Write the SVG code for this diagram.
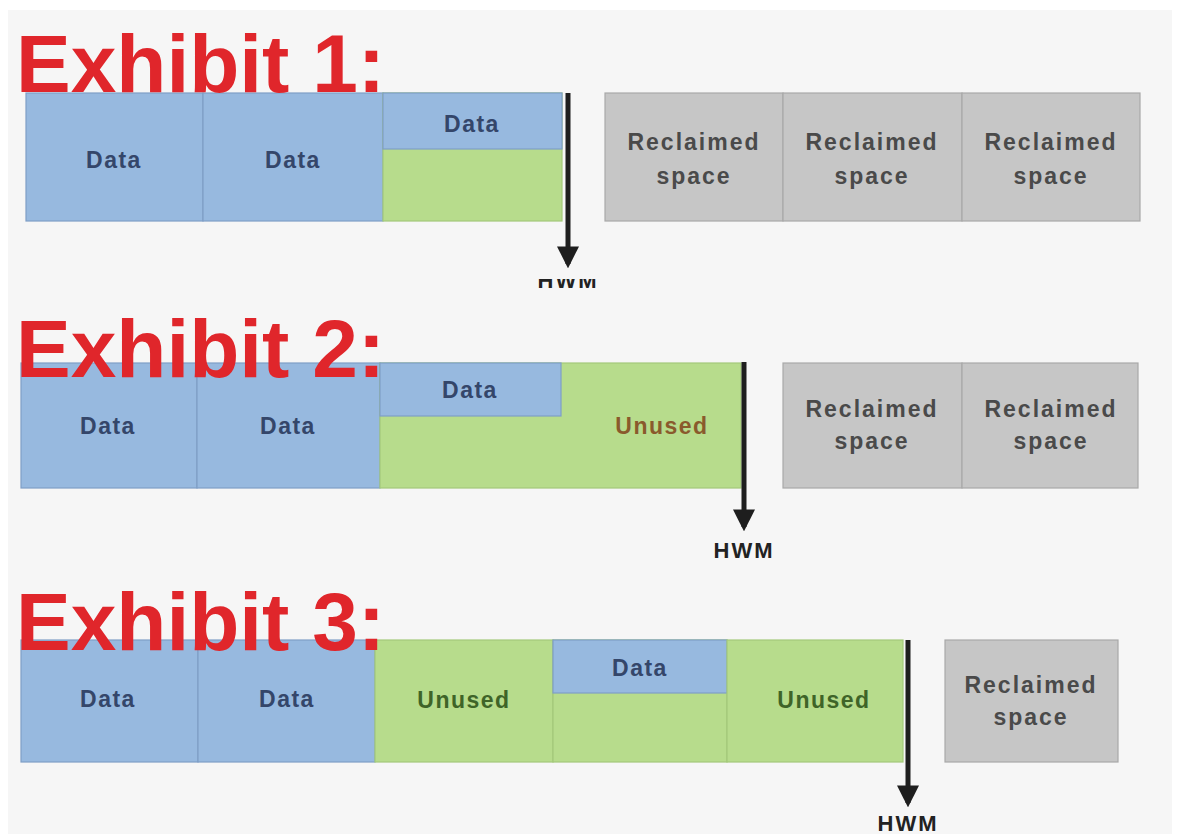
<svg xmlns="http://www.w3.org/2000/svg" width="1180" height="834" viewBox="0 0 1180 834">
<defs>
<style>
.bg{fill:#f6f6f6}
.data{fill:#97b9df;stroke:#7f9ec6;stroke-width:1.2}
.unused{fill:#b7dc8c;stroke:#a3c97a;stroke-width:1.2}
.recl{fill:#c6c6c6;stroke:#a9a9a9;stroke-width:1.2}
.title{font-family:"Liberation Sans",Arial,sans-serif;font-weight:bold;font-size:82px;fill:#e0262b}
.dt{font-family:"Liberation Sans",Arial,sans-serif;font-weight:bold;font-size:23px;letter-spacing:1.5px;fill:#34466a;text-anchor:middle}
.ut{font-family:"Liberation Sans",Arial,sans-serif;font-weight:bold;font-size:23px;letter-spacing:1.5px;fill:#3f6428;text-anchor:middle}
.rt{font-family:"Liberation Sans",Arial,sans-serif;font-weight:bold;font-size:23px;letter-spacing:2px;fill:#4a4a4a;text-anchor:middle}
.hwm{font-family:"Liberation Sans",Arial,sans-serif;font-weight:bold;font-size:22px;letter-spacing:2px;fill:#222;text-anchor:middle}
.arr{stroke:#1e1e1e;stroke-width:5;fill:none}
</style>
<marker id="ah" viewBox="0 0 10 10" refX="8" refY="5" markerWidth="4.4" markerHeight="4.4" orient="auto" markerUnits="strokeWidth">
<path d="M0,0 L10,5 L0,10 z" fill="#1e1e1e"/>
</marker>
<clipPath id="hclip" clipPathUnits="userSpaceOnUse"><rect x="520" y="279" width="100" height="20"/></clipPath>
</defs>
<rect x="0" y="0" width="1180" height="834" fill="#ffffff"/>
<rect class="bg" x="8" y="10" width="1164" height="824"/>

<!-- Exhibit 1 -->
<g id="ex1-b1"><rect class="data" x="26" y="93" width="177" height="128"/><text class="dt" x="114" y="168">Data</text></g>
<g id="ex1-b2"><rect class="data" x="203" y="93" width="180" height="128"/><text class="dt" x="293" y="168">Data</text></g>
<g id="ex1-b3"><rect class="unused" x="383" y="93" width="179" height="128"/><rect class="data" x="383" y="93" width="179" height="56"/><text class="dt" x="472" y="132">Data</text></g>
<g id="ex1-r1"><rect class="recl" x="605" y="93" width="178" height="128"/><text class="rt" x="694" y="150">Reclaimed</text><text class="rt" x="694" y="184">space</text></g>
<g id="ex1-r2"><rect class="recl" x="783" y="93" width="179" height="128"/><text class="rt" x="872" y="150">Reclaimed</text><text class="rt" x="872" y="184">space</text></g>
<g id="ex1-r3"><rect class="recl" x="962" y="93" width="178" height="128"/><text class="rt" x="1051" y="150">Reclaimed</text><text class="rt" x="1051" y="184">space</text></g>
<g id="ex1-title"><text class="title" x="16" y="92">Exhibit 1:</text></g>
<g id="ex1-hwm" clip-path="url(#hclip)"><text class="hwm" x="568" y="288">HWM</text></g>

<!-- Exhibit 2 -->
<g id="ex2-b1"><rect class="data" x="21" y="363" width="176" height="125"/><text class="dt" x="108" y="434">Data</text></g>
<g id="ex2-b2"><rect class="data" x="197" y="363" width="183" height="125"/><text class="dt" x="288" y="434">Data</text></g>
<g id="ex2-b3"><rect class="unused" x="380" y="363" width="361" height="125"/><rect class="data" x="380" y="363" width="181" height="53"/><text class="dt" x="470" y="398">Data</text><text class="ut" x="662" y="434" style="fill:#8a5a2c">Unused</text></g>
<g id="ex2-r1"><rect class="recl" x="783" y="363" width="179" height="125"/><text class="rt" x="872" y="417">Reclaimed</text><text class="rt" x="872" y="449">space</text></g>
<g id="ex2-r2"><rect class="recl" x="962" y="363" width="176" height="125"/><text class="rt" x="1051" y="417">Reclaimed</text><text class="rt" x="1051" y="449">space</text></g>
<g id="ex2-title"><text class="title" x="16" y="377">Exhibit 2:</text></g>
<g id="ex2-hwm"><text class="hwm" x="744" y="558">HWM</text></g>

<!-- Exhibit 3 -->
<g id="ex3-b1"><rect class="data" x="21" y="640" width="177" height="122"/><text class="dt" x="108" y="707">Data</text></g>
<g id="ex3-b2"><rect class="data" x="198" y="640" width="177" height="122"/><text class="dt" x="287" y="707">Data</text></g>
<g id="ex3-b3"><rect class="unused" x="375" y="640" width="178" height="122"/><text class="ut" x="464" y="708">Unused</text></g>
<g id="ex3-b4"><rect class="unused" x="553" y="640" width="174" height="122"/><rect class="data" x="553" y="640" width="174" height="53"/><text class="dt" x="640" y="676">Data</text></g>
<g id="ex3-b5"><rect class="unused" x="727" y="640" width="176" height="122"/><text class="ut" x="824" y="708">Unused</text></g>
<g id="ex3-r1"><rect class="recl" x="945" y="640" width="173" height="122"/><text class="rt" x="1031" y="693">Reclaimed</text><text class="rt" x="1031" y="725">space</text></g>
<g id="ex3-title"><text class="title" x="16" y="650">Exhibit 3:</text></g>
<g id="ex3-hwm"><text class="hwm" x="908" y="831">HWM</text></g>

<g id="connectors">
<line class="arr" x1="568" y1="93" x2="568" y2="264" marker-end="url(#ah)"/>
<line class="arr" x1="744" y1="362" x2="744" y2="527" marker-end="url(#ah)"/>
<line class="arr" x1="908" y1="640" x2="908" y2="803" marker-end="url(#ah)"/>
</g>
</svg>
